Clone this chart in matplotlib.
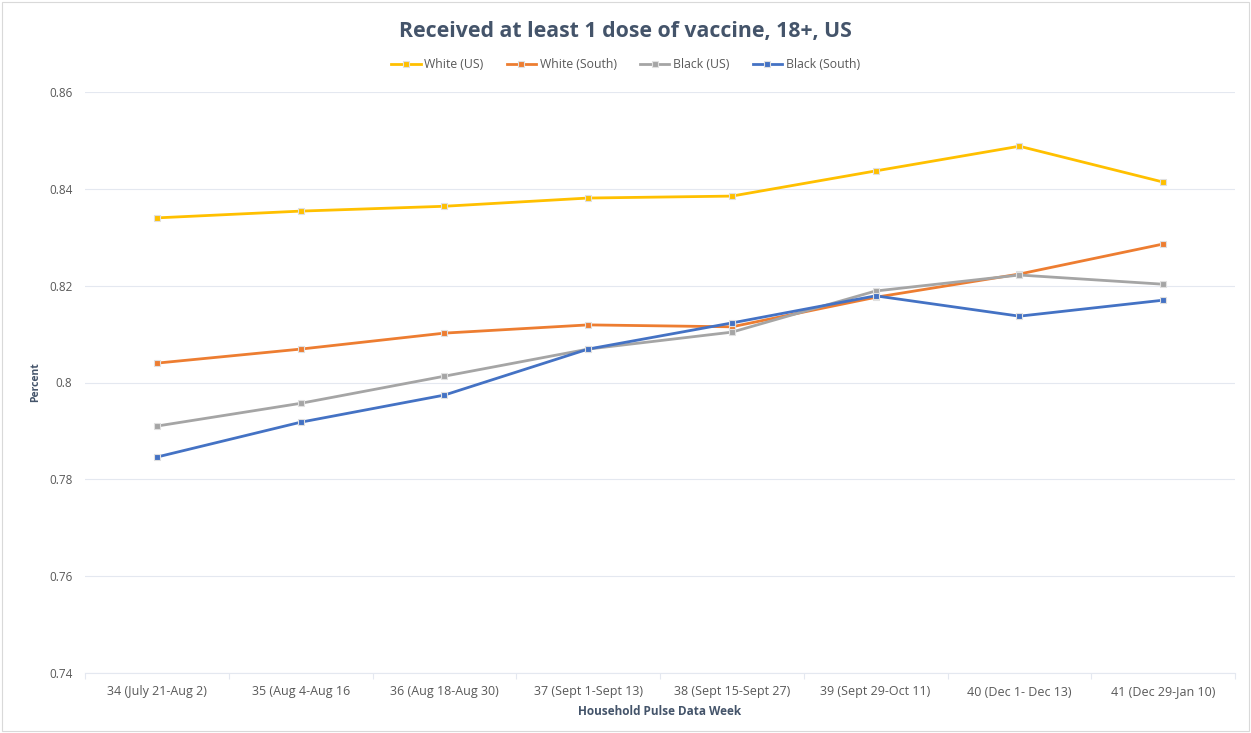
import numpy as np
import matplotlib.pyplot as plt
from matplotlib.patches import Rectangle

plt.rcParams['font.family'] = ['Open Sans', 'DejaVu Sans']

weeks = ['34 (July 21-Aug 2)', '35 (Aug 4-Aug 16', '36 (Aug 18-Aug 30)', '37 (Sept 1-Sept 13)',
         '38 (Sept 15-Sept 27)', '39 (Sept 29-Oct 11)', '40 (Dec 1- Dec 13)', '41 (Dec 29-Jan 10)']
white_us = [0.8340, 0.8354, 0.8364, 0.8381, 0.8385, 0.8437, 0.8488, 0.8414]
white_south = [0.8040, 0.8069, 0.8102, 0.8119, 0.8115, 0.8176, 0.8224, 0.8286]
black_us = [0.7910, 0.7957, 0.8013, 0.8069, 0.8104, 0.8189, 0.8222, 0.8203]
black_south = [0.7846, 0.7918, 0.7974, 0.8069, 0.8123, 0.8179, 0.8137, 0.8170]
yticks = [0.74, 0.76, 0.78, 0.8, 0.82, 0.84, 0.86]

series = [('White (US)', white_us, '#FFC000'),
          ('White (South)', white_south, '#ED7D31'),
          ('Black (US)', black_us, '#A5A5A5'),
          ('Black (South)', black_south, '#4472C4')]

fig = plt.figure(figsize=(12.51, 7.33), dpi=100)
ax = fig.add_axes([85 / 1251, 1 - 673 / 733, 1150 / 1251, 581 / 733])

x = np.arange(len(weeks))
handles = []
for name, vals, col in series:
    h, = ax.plot(x, vals, color=col, lw=2.0, marker='s', ms=5, mfc=col,
                 mec='#E0E0E0', mew=0.8, label=name, solid_joinstyle='round')
    handles.append(h)

ax.set_xlim(-0.5, len(weeks) - 0.5)
ax.set_ylim(0.74, 0.86)
ax.set_yticks(yticks)
ax.set_yticklabels(['0.74', '0.76', '0.78', '0.8', '0.82', '0.84', '0.86'])
ax.set_xticks(x)
ax.set_xticklabels(weeks)
ax.set_xticks(np.arange(-0.5, len(weeks), 1), minor=True)
ax.tick_params(axis='x', which='major', length=0, pad=9, labelsize=9, labelcolor='#595959')
ax.tick_params(axis='x', which='minor', length=4, color='#E4E8F0', width=0.8)
ax.tick_params(axis='y', length=0, pad=9, labelsize=8.5, labelcolor='#595959')
ax.grid(axis='y', color='#E4E8F0', lw=0.8)
ax.set_axisbelow(True)
for s in ['top', 'right', 'left']:
    ax.spines[s].set_visible(False)
ax.spines['bottom'].set_color('#E4E8F0')
ax.spines['bottom'].set_linewidth(0.8)

ax.set_xlabel('Household Pulse Data Week', fontsize=8.5, fontweight='bold', color='#44546A', labelpad=5)
ax.set_ylabel('Percent', fontsize=7.5, fontweight='bold', color='#44546A', labelpad=6)

fig.text(0.5, 1 - 31 / 733, 'Received at least 1 dose of vaccine, 18+, US', ha='center', va='center',
         fontsize=15.3, fontweight='bold', color='#44546A')
fig.legend(handles=handles, loc='center', bbox_to_anchor=(0.5, 1 - 65 / 733), ncol=4, frameon=False,
           fontsize=8.8, labelcolor='#595959', handlelength=2.4, columnspacing=1.9, handletextpad=0.3)

fig.patches.append(Rectangle((2 / 1251, 2 / 733), 1 - 4 / 1251, 1 - 4 / 733, transform=fig.transFigure,
                             fill=False, edgecolor='#D9D9D9', lw=0.8))

fig.savefig('out.png', dpi=100)
